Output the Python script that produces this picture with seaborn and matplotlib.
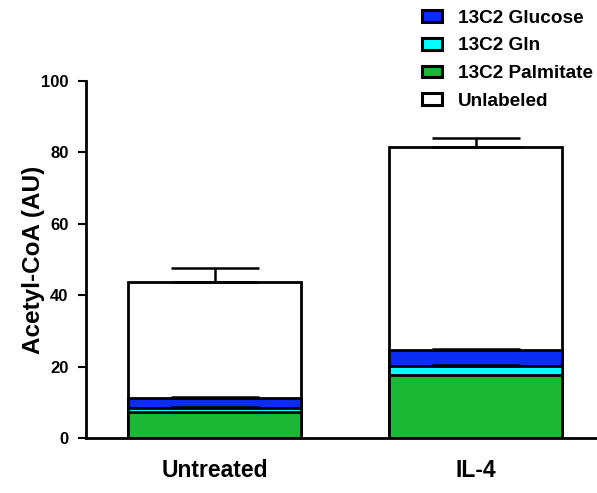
import seaborn as sns
import pandas as pd
import matplotlib.pyplot as plt
from matplotlib.patches import Patch

# values (AU)
conditions = ['Untreated', 'IL-4']
palmitate = [7.4, 17.6]
gln = [1.0, 2.7]
glucose = [2.9, 4.3]
unlabeled = [32.5, 56.9]
total_err = [3.7, 2.5]
glucose_err = [0.3, 0.3]
gln_err = [0.2, 0.2]

colors = {'13C2 Glucose': '#0a2cf5', '13C2 Gln': '#00ffff',
          '13C2 Palmitate': '#1ab834', 'Unlabeled': '#ffffff'}

sns.set_style('ticks', {'axes.edgecolor': 'black', 'text.color': 'black',
                        'axes.labelcolor': 'black', 'xtick.color': 'black',
                        'ytick.color': 'black'})
plt.rcParams['font.family'] = ['Liberation Sans', 'DejaVu Sans']
plt.rcParams['font.weight'] = 'bold'

df = pd.DataFrame({'condition': conditions, 'palmitate': palmitate, 'gln': gln,
                   'glucose': glucose, 'unlabeled': unlabeled})
df['cum_gln'] = df['palmitate'] + df['gln']
df['cum_glucose'] = df['cum_gln'] + df['glucose']
df['total'] = df['cum_glucose'] + df['unlabeled']

fig = plt.figure(figsize=(5.97, 4.93), dpi=100)
ax = fig.add_axes([0.144, 0.1116, 0.856, 0.7241])

bar_w = 0.663
# draw tallest first so each shorter segment lies on top
for col, name in [('total', 'Unlabeled'), ('cum_glucose', '13C2 Glucose'),
                  ('cum_gln', '13C2 Gln'), ('palmitate', '13C2 Palmitate')]:
    sns.barplot(data=df, x='condition', y=col, color=colors[name], saturation=1,
                width=bar_w, edgecolor='black', linewidth=2, errorbar=None, ax=ax)

# upward-only error bars
x = range(len(conditions))
for top, err in [(df['total'], total_err), (df['cum_glucose'], glucose_err),
                 (df['cum_gln'], gln_err)]:
    ax.errorbar(x, top, yerr=[[0] * len(err), err], fmt='none', ecolor='black',
                elinewidth=1.8, capsize=31.5, capthick=1.8, zorder=5)

ax.set_xlim(-0.494, 1.464)
ax.set_ylim(0, 100)
ax.set_yticks([0, 20, 40, 60, 80, 100])
ax.set_xlabel('')
ax.set_ylabel('Acetyl-CoA (AU)', fontsize=17.5, fontweight='bold')
ax.yaxis.set_label_coords(-0.081, 0.5)
ax.tick_params(axis='y', length=6, width=1.5, labelsize=12, pad=6.5)
ax.tick_params(axis='x', length=0, labelsize=16.5, pad=15)
for lab in ax.get_xticklabels() + ax.get_yticklabels():
    lab.set_fontweight('bold')
sns.despine(ax=ax)
for s in ['left', 'bottom']:
    ax.spines[s].set_linewidth(2)

handles = [Patch(facecolor=colors[n], edgecolor='black', linewidth=2.2, label=n)
           for n in ['13C2 Glucose', '13C2 Gln', '13C2 Palmitate', 'Unlabeled']]
fig.legend(handles=handles, loc='upper left', bbox_to_anchor=(412 / 597, 1.0),
           frameon=False, borderpad=0, prop={'size': 13.7, 'weight': 'bold'},
           handlelength=1.1, handleheight=0.58, handletextpad=0.8, labelspacing=0.57)

fig.savefig('out.png', dpi=100)
